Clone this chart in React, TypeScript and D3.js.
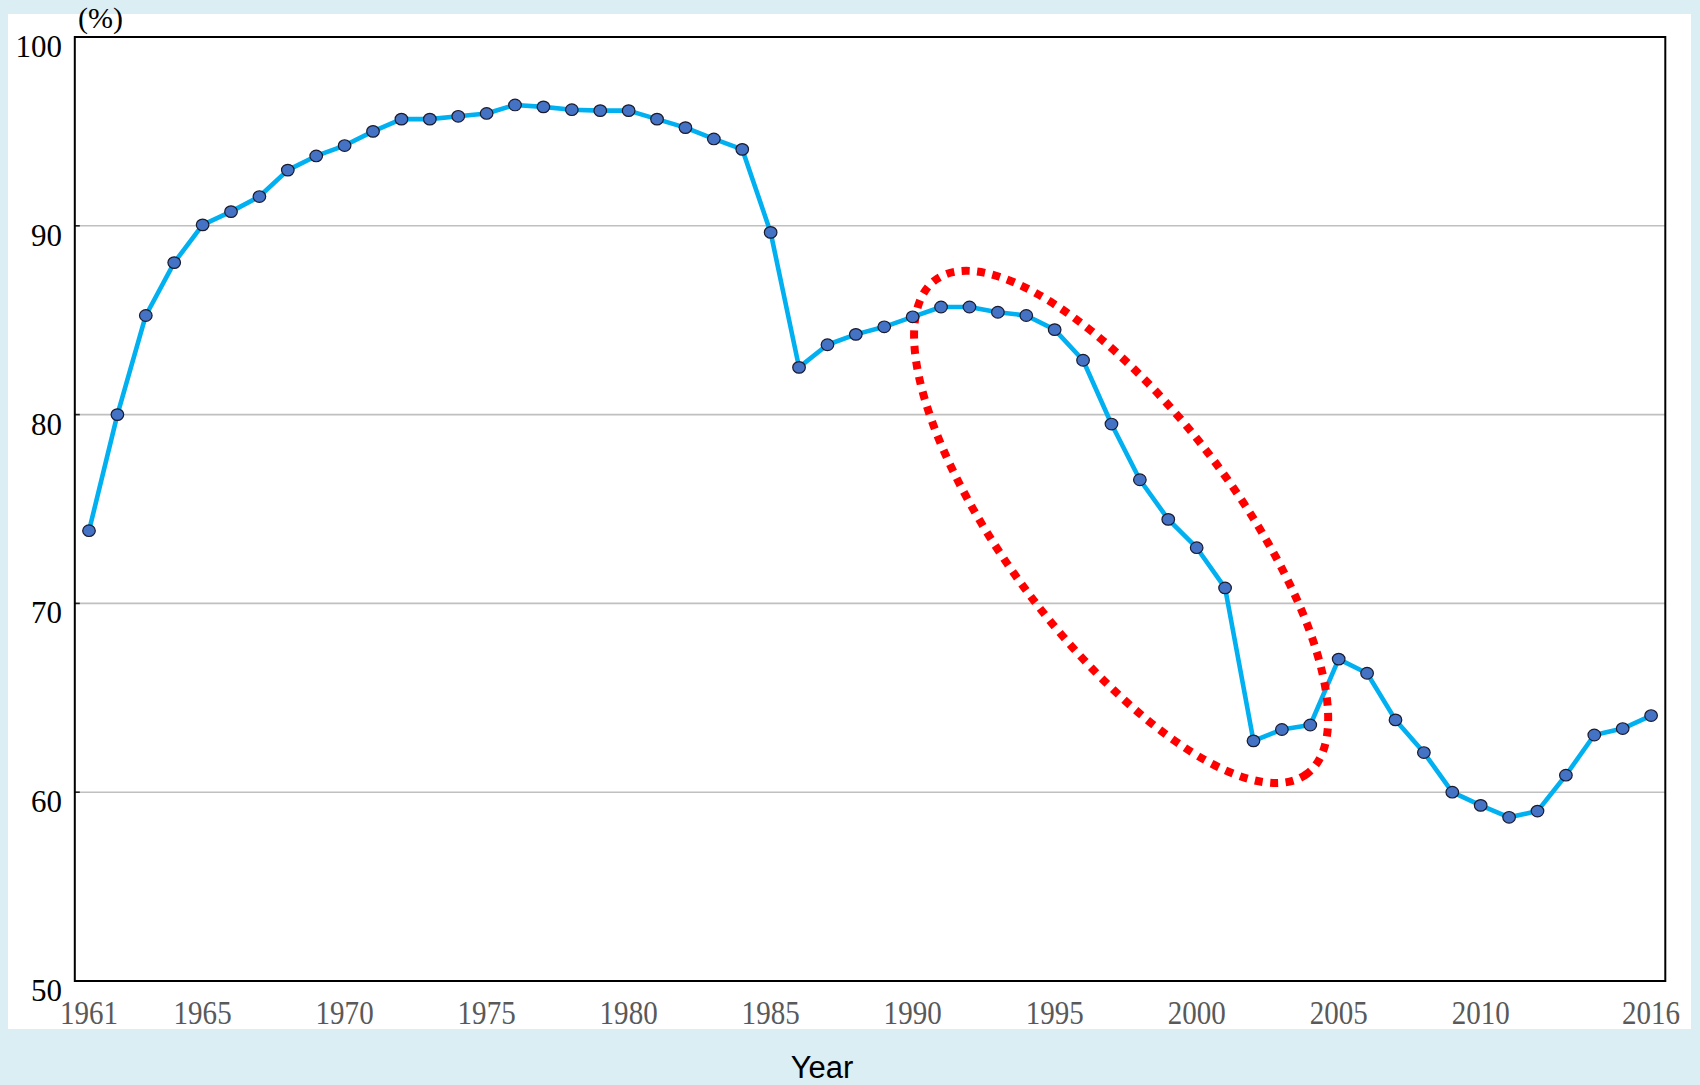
import React from "react";
import * as d3 from "d3";

const years: number[] = [
  1961, 1962, 1963, 1964, 1965, 1966, 1967, 1968, 1969, 1970,
  1971, 1972, 1973, 1974, 1975, 1976, 1977, 1978, 1979, 1980,
  1981, 1982, 1983, 1984, 1985, 1986, 1987, 1988, 1989, 1990,
  1991, 1992, 1993, 1994, 1995, 1996, 1997, 1998, 1999, 2000,
  2001, 2002, 2003, 2004, 2005, 2006, 2007, 2008, 2009, 2010,
  2011, 2012, 2013, 2014, 2015, 2016,
];

const values: number[] = [
  73.85, 80.0, 85.25, 88.05, 90.05, 90.75, 91.55, 92.95, 93.7, 94.25,
  95.0, 95.65, 95.65, 95.8, 95.95, 96.4, 96.3, 96.15, 96.1, 96.1,
  95.65, 95.2, 94.6, 94.05, 89.65, 82.5, 83.7, 84.25, 84.65, 85.18,
  85.7, 85.7, 85.42, 85.25, 84.5, 82.88, 79.5, 76.55, 74.45, 72.95,
  70.82, 62.72, 63.32, 63.56, 67.05, 66.3, 63.83, 62.1, 60.0, 59.3,
  58.67, 59.0, 60.9, 63.03, 63.37, 64.06,
];

const yTicks: number[] = [50, 60, 70, 80, 90, 100];
const gridTicks: number[] = [60, 70, 80, 90];
const xTickYears: number[] = [1961, 1965, 1970, 1975, 1980, 1985, 1990, 1995, 2000, 2005, 2010, 2016];

// highlighted period (dotted ellipse), center in data units
const highlightCenterYear = 1997.34;
const highlightCenterValue = 74.05;

const W = 1700;
const H = 1085;
const plotLeft = 74.8;
const plotRight = 1665.3;
const plotTop = 37;
const plotBottom = 981;

export default function App() {
  const x = d3
    .scalePoint<number>()
    .domain(years)
    .range([plotLeft, plotRight])
    .padding(0.5);
  const y = d3.scaleLinear().domain([50, 100]).range([plotBottom, plotTop]);
  const xc = d3
    .scaleLinear()
    .domain([years[0], years[years.length - 1]])
    .range([x(years[0]) as number, x(years[years.length - 1]) as number]);

  const data = years.map((yr, i) => ({ yr, v: values[i] }));
  const line = d3
    .line<{ yr: number; v: number }>()
    .x((d) => x(d.yr) as number)
    .y((d) => y(d.v));

  const ecx = xc(highlightCenterYear);
  const ecy = y(highlightCenterValue);

  return (
    <div style={{ position: "absolute", left: 0, top: 0 }}>
      <svg width={W} height={H} viewBox={`0 0 ${W} ${H}`} style={{ display: "block" }}>
        <rect x={0} y={0} width={W} height={H} fill="#DAEEF3" />
        <rect x={8} y={14} width={1683} height={1015} fill="#FFFFFF" />

        {/* gridlines */}
        {gridTicks.map((t) => (
          <line
            key={"g" + t}
            x1={plotLeft}
            x2={plotRight}
            y1={y(t)}
            y2={y(t)}
            stroke="#C0C0C0"
            strokeWidth={1.6}
          />
        ))}
        {gridTicks.map((t) => (
          <line
            key={"tk" + t}
            x1={plotLeft}
            x2={plotLeft + 5}
            y1={y(t)}
            y2={y(t)}
            stroke="#222"
            strokeWidth={1.6}
          />
        ))}

        {/* frame */}
        <rect
          x={plotLeft}
          y={plotTop}
          width={plotRight - plotLeft}
          height={plotBottom - plotTop}
          fill="none"
          stroke="#000"
          strokeWidth={2}
        />

        {/* y labels */}
        {yTicks.map((t) => (
          <text
            key={"yl" + t}
            x={62}
            y={y(t) + 20}
            textAnchor="end"
            fontFamily="'Liberation Serif', 'Times New Roman', serif"
            fontSize={31}
            fill="#000"
          >
            {t}
          </text>
        ))}
        <text
          x={78}
          y={28}
          fontFamily="'Liberation Serif', 'Times New Roman', serif"
          fontSize={30}
          fill="#000"
        >
          (%)
        </text>

        {/* x labels */}
        {xTickYears.map((yr) => (
          <text
            key={"xl" + yr}
            transform={`translate(${x(yr)},${1024}) scale(0.88,1)`}
            textAnchor="middle"
            fontFamily="'Liberation Serif', 'Times New Roman', serif"
            fontSize={33}
            fill="#595959"
          >
            {yr}
          </text>
        ))}

        <text
          x={822}
          y={1078}
          textAnchor="middle"
          fontFamily="'Liberation Sans', Arial, sans-serif"
          fontSize={31}
          fill="#000"
        >
          Year
        </text>

        {/* series line */}
        <path d={line(data) || ""} fill="none" stroke="#00B0F0" strokeWidth={4.6} strokeLinejoin="round" />

        {/* dotted ellipse annotation */}
        <ellipse
          cx={ecx}
          cy={ecy}
          rx={309}
          ry={114}
          transform={`rotate(53 ${ecx} ${ecy})`}
          fill="none"
          stroke="#FF0000"
          strokeWidth={8}
          strokeDasharray="8 7.5"
        />

        {/* markers */}
        {data.map((d) => (
          <ellipse
            key={"m" + d.yr}
            cx={x(d.yr) as number}
            cy={y(d.v)}
            rx={6.3}
            ry={5.8}
            fill="#4472C4"
            stroke="#1A1A2E"
            strokeWidth={1.2}
          />
        ))}
      </svg>
    </div>
  );
}
